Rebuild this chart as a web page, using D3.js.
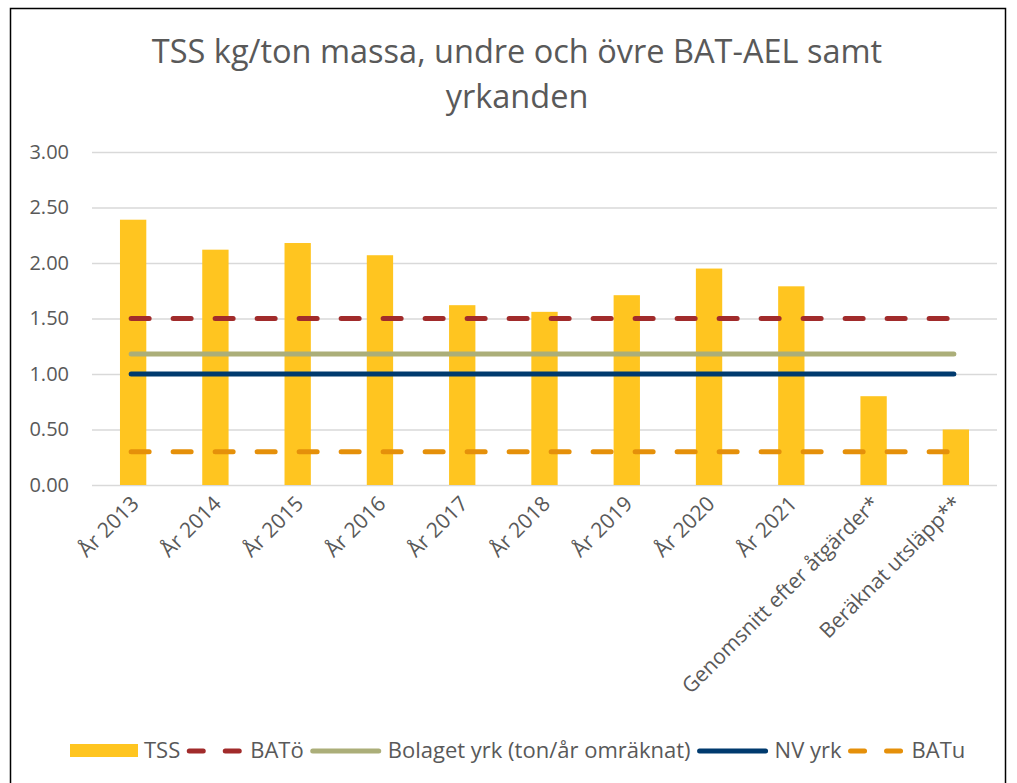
<!DOCTYPE html>
<html>
<head>
<meta charset="utf-8">
<script src="https://cdn.jsdelivr.net/npm/d3@7"></script>
<style>
  body { margin: 0; background: #fff; }
  text { font-family: "Open Sans", sans-serif; fill: #595959; }
</style>
</head>
<body>
<svg></svg>
<script>
const size = {w: 1017, h: 783};
const margin = {t: 152, r: 20, b: 298, l: 92};

const categories = ['År 2013', 'År 2014', 'År 2015', 'År 2016', 'År 2017', 'År 2018',
    'År 2019', 'År 2020', 'År 2021', 'Genomsnitt efter åtgärder*', 'Beräknat utsläpp**'];
const tss = [2.39, 2.12, 2.18, 2.07, 1.62, 1.56, 1.71, 1.95, 1.79, 0.80, 0.50];
const batO = 1.50;
const bolagetYrk = 1.18;
const nvYrk = 1.00;
const batU = 0.30;
const yTicks = [0, 0.5, 1, 1.5, 2, 2.5, 3];

const colors = {tss: '#FFC520', batO: '#A12B2B', bolaget: '#ABAE79', nv: '#003A6E', batU: '#E5900A'};

const svg = d3.select('svg')
    .attr('width', size.w)
    .attr('height', size.h);

// chart border
svg.append('rect')
    .attr('x', 10.5).attr('y', 8.5)
    .attr('width', 995).attr('height', 790)
    .attr('fill', 'none')
    .attr('stroke', '#000')
    .attr('stroke-width', 1.5);

const x = d3.scaleBand()
    .domain(categories)
    .range([margin.l, size.w - margin.r])
    .paddingInner(0.68)
    .paddingOuter(0.34);

const y = d3.scaleLinear()
    .domain([0, 3])
    .range([size.h - margin.b, margin.t]);

// title
const titleLines = ['TSS kg/ton massa, undre och övre BAT-AEL samt', 'yrkanden'];
svg.append('g').selectAll('text')
    .data(titleLines)
    .join('text')
    .attr('x', 517)
    .attr('y', (d, i) => 63 + i * 45)
    .attr('text-anchor', 'middle')
    .style('font-size', '32.5px')
    .text(d => d);

// gridlines + y axis
const yAxis = svg.append('g')
    .attr('transform', `translate(${margin.l},0)`)
    .call(d3.axisLeft(y)
        .tickValues(yTicks)
        .tickFormat(d3.format('.2f'))
        .tickSize(-(size.w - margin.l - margin.r))
        .tickPadding(23));
yAxis.select('.domain').remove();
yAxis.selectAll('line').attr('stroke', '#d9d9d9').attr('stroke-width', 1.3);
yAxis.selectAll('text').style('font-size', '20px').attr('fill', '#595959');

// bars
svg.append('g').selectAll('rect')
    .data(tss)
    .join('rect')
    .attr('x', (d, i) => x(categories[i]))
    .attr('width', x.bandwidth())
    .attr('y', d => y(d))
    .attr('height', d => y(0) - y(d))
    .attr('fill', colors.tss);

// horizontal lines
const first = x(categories[0]) + x.bandwidth() / 2;
const last = x(categories[categories.length - 1]) + x.bandwidth() / 2;
const line = d3.line().x(d => d[0]).y(d => d[1]);

function refLine(val, color, dashed) {
    svg.append('path')
        .attr('d', line([[first - 2, y(val)], [last - 2, y(val)]]))
        .attr('stroke', color)
        .attr('stroke-width', 5)
        .attr('stroke-linecap', 'round')
        .attr('stroke-dasharray', dashed ? '18,24' : null)
        .attr('fill', 'none');
}
refLine(batO, colors.batO, true);
refLine(bolagetYrk, colors.bolaget, false);
refLine(nvYrk, colors.nv, false);
refLine(batU, colors.batU, true);

// x labels
svg.append('g').selectAll('text')
    .data(categories)
    .join('text')
    .attr('text-anchor', 'end')
    .attr('transform', d => `translate(${x(d) + x.bandwidth() / 2 + 7},${y(0) + 20}) rotate(-45)`)
    .style('font-size', '21px')
    .text(d => d);

// legend
const legendItems = [
    {name: 'TSS', type: 'bar', color: colors.tss},
    {name: 'BATö', type: 'dash', color: colors.batO},
    {name: 'Bolaget yrk (ton/år omräknat)', type: 'line', color: colors.bolaget},
    {name: 'NV yrk', type: 'line', color: colors.nv},
    {name: 'BATu', type: 'dash', color: colors.batU}
];
const legend = svg.append('g').attr('transform', 'translate(70,751)');
let lx = 0;
legendItems.forEach(item => {
    const g = legend.append('g').attr('transform', `translate(${lx},0)`);
    let symW;
    if (item.type === 'bar') {
        symW = 68;
        g.append('rect').attr('x', 0).attr('y', -7).attr('width', symW).attr('height', 13).attr('fill', item.color);
    } else {
        symW = item.type === 'dash' ? 58 : 72;
        g.append('line')
            .attr('x1', 3).attr('x2', symW - 3)
            .attr('y1', 0).attr('y2', 0)
            .attr('stroke', item.color)
            .attr('stroke-width', 5)
            .attr('stroke-linecap', 'round')
            .attr('stroke-dasharray', item.type === 'dash' ? '14,22' : null);
    }
    const t = g.append('text')
        .attr('x', symW + 6).attr('y', 7)
        .style('font-size', '22px')
        .text(item.name);
    lx += symW + 6 + t.node().getComputedTextLength() + 6;
});
</script>
</body>
</html>
